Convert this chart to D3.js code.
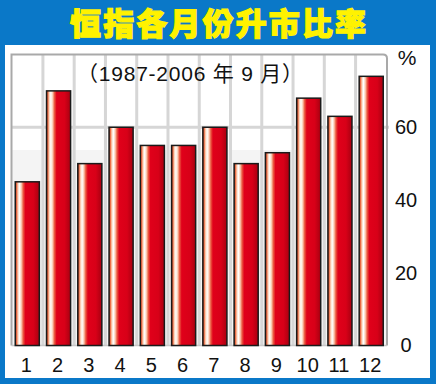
<!DOCTYPE html>
<html><head><meta charset="utf-8">
<script src="https://cdn.jsdelivr.net/npm/d3@7"></script>
<style>html,body{margin:0;padding:0;background:#0a78c8;}svg{display:block;}</style>
</head><body>
<script>
const months = ["1","2","3","4","5","6","7","8","9","10","11","12"];
const riseRatio = [45, 70, 50, 60, 55, 55, 60, 50, 53, 68, 63, 74];
const yTicks = [0, 20, 40, 60];
const yUnit = "%";
const titleText = "恒指各月份升市比率";
const subtitleText = "（1987-2006 年 9 月）";

(function () {
const W = 436, H = 384;
const svg = d3.select("body").append("svg").attr("width", W).attr("height", H);

svg.append("rect").attr("width", W).attr("height", H).attr("fill", "#0a78c8");
svg.append("rect").attr("x", 5).attr("y", 45).attr("width", 425).attr("height", 333).attr("fill", "#ffffff");

const defs = svg.append("defs");
const g = defs.append("linearGradient").attr("id", "barGrad").attr("x1", "0").attr("x2", "1").attr("y1", "0").attr("y2", "0");
[["0%", "#a83018"], ["6%", "#ec7048"], ["12%", "#fcd8c0"], ["18%", "#ffffff"], ["25%", "#fcd0b8"], ["33%", "#ec5a40"], ["42%", "#e0001a"], ["75%", "#d80018"], ["100%", "#a80010"]]
  .forEach(([o, c]) => g.append("stop").attr("offset", o).attr("stop-color", c));

const pL = 11.5, pR = 387, pT = 54.5, pB = 345.5;
const x = d3.scaleBand().domain(months).range([pL, pR]).paddingInner(0.23).paddingOuter(0.12);
const y = d3.scaleLinear().domain([0, 80]).range([pB, pT]);

// background band
svg.append("rect").attr("x", pL).attr("y", 150).attr("width", pR - pL).attr("height", pB - 150).attr("fill", "#f4f4f4");

// vertical gridlines at category boundaries
const gap = x.step() * x.paddingInner();
svg.append("g").selectAll("line").data(months.slice(1)).join("line")
  .attr("x1", d => x(d) - gap / 2).attr("x2", d => x(d) - gap / 2)
  .attr("y1", pT).attr("y2", pB)
  .attr("stroke", "#d6d6d6").attr("stroke-width", 3);

// horizontal gridline at 60
svg.append("g").selectAll("line").data(yTicks.filter(t => t === 60)).join("line")
  .attr("x1", pL).attr("x2", pR + 2)
  .attr("y1", d => y(d)).attr("y2", d => y(d))
  .attr("stroke", "#d6d6d6").attr("stroke-width", 3);

// frame
svg.append("path")
  .attr("d", `M${pL},${pB} L${pL},${pT} L${pR - 4},${pT} Q${pR},${pT} ${pR},${pT + 4} L${pR},${pB}`)
  .attr("fill", "none").attr("stroke", "#a9a9a9").attr("stroke-width", 2);
svg.append("line").attr("x1", pL).attr("x2", pR).attr("y1", pB).attr("y2", pB)
  .attr("stroke", "#c8c8c8").attr("stroke-width", 1.5);

// bars
svg.append("g").selectAll("rect").data(riseRatio).join("rect")
  .attr("x", (d, i) => x(months[i]))
  .attr("y", d => y(d))
  .attr("width", x.bandwidth())
  .attr("height", d => pB - y(d))
  .attr("fill", "url(#barGrad)")
  .attr("stroke", "#1a1a1a").attr("stroke-width", 1.5);

// x axis labels
const xAxis = d3.axisBottom(x).tickSize(0).tickPadding(0);
const xg = svg.append("g").attr("transform", `translate(-1,${pB + 8})`).call(xAxis);
xg.select(".domain").remove();
xg.selectAll("text").attr("font-family", "'Liberation Sans', Arial, sans-serif").attr("font-size", 20).attr("fill", "#111").attr("dy", "0.9em");

// y axis labels on right
const yAxis = d3.axisRight(y).tickValues(yTicks).tickSize(0).tickPadding(0);
const yg = svg.append("g").attr("transform", `translate(406,0)`).call(yAxis);
yg.select(".domain").remove();
yg.selectAll("text").attr("text-anchor", "middle").attr("font-family", "'Liberation Sans', Arial, sans-serif").attr("font-size", 20).attr("fill", "#111");
svg.append("text").attr("x", 407).attr("y", 58).attr("dy", "0.35em").attr("text-anchor", "middle")
  .attr("font-family", "'Liberation Sans', Arial, sans-serif").attr("font-size", 21).attr("fill", "#111").text(yUnit);

// title
svg.append("text").attr("x", 218).attr("y", 35).attr("text-anchor", "middle")
  .attr("font-family", "'Noto Sans CJK TC', 'Noto Sans CJK SC', sans-serif").attr("font-weight", 900)
  .attr("font-size", 31).attr("fill", "#fff200").attr("stroke", "#fff200").attr("stroke-width", 1.2)
  .attr("textLength", 296).attr("lengthAdjust", "spacing")
  .text(titleText);

// subtitle
svg.append("text").attr("x", 77).attr("y", 81)
  .attr("font-family", "'Liberation Sans', 'Noto Sans CJK TC', sans-serif")
  .attr("font-size", 21).attr("fill", "#111")
  .attr("textLength", 226).attr("lengthAdjust", "spacing")
  .text(subtitleText);
})();
</script>
</body></html>
